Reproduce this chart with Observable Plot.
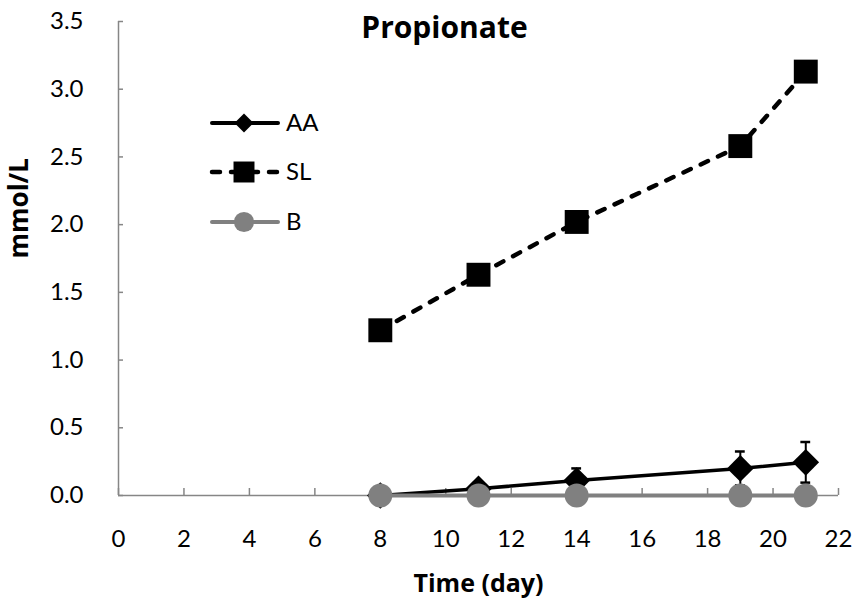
<!DOCTYPE html>
<html><head><meta charset="utf-8">
<script src="https://cdn.jsdelivr.net/npm/d3@7"></script>
<script src="https://cdn.jsdelivr.net/npm/@observablehq/plot@0.6"></script>
<style>
body{margin:0;background:#fff;}
#wrap{position:relative;width:863px;height:603px;font-family:Lato,"Open Sans",sans-serif;}
#legend{position:absolute;left:0;top:0;pointer-events:none;}
</style></head><body><div id="wrap"></div>
<script>
// ---- data ----
const days = [8, 11, 14, 19, 21];
const aaValues = [0, 0.05, 0.11, 0.2, 0.245];
const aaError = [0, 0.02, 0.09, 0.125, 0.15];
const slValues = [1.22, 1.63, 2.02, 2.58, 3.13];
const bValues = [0, 0, 0, 0, 0];
const seriesNames = ["AA", "SL", "B"];
const xTicks = [0, 2, 4, 6, 8, 10, 12, 14, 16, 18, 20, 22];
const yTicks = [0, 0.5, 1, 1.5, 2, 2.5, 3, 3.5];
const titleText = "Propionate";
const xLabel = "Time (day)";
const yLabel = "mmol/L";

// ---- tables ----
const aa = days.map((d, i) => ({day: d, v: aaValues[i], e: aaError[i]}));
const sl = days.map((d, i) => ({day: d, v: slValues[i]}));
const b = days.map((d, i) => ({day: d, v: bValues[i]}));
const aaErr = aa.filter(d => d.e > 0);

const axisColor = "#868686";
const grey = "#808080";
const capHalf = 0.15;
const boldFont = "'Open Sans', Lato, sans-serif";

const chart = Plot.plot({
  width: 863, height: 603,
  marginLeft: 118, marginRight: 25, marginTop: 21, marginBottom: 108,
  style: {fontFamily: "Lato, 'Open Sans', sans-serif", background: "white"},
  x: {domain: [0, 22]},
  y: {domain: [0, 3.5]},
  marks: [
    Plot.ruleX([0], {stroke: axisColor, strokeWidth: 1.5}),
    Plot.ruleY([0], {stroke: axisColor, strokeWidth: 1.5}),
    Plot.axisX(xTicks, {tickSize: -7, text: null, label: null, stroke: axisColor, strokeWidth: 1.5}),
    Plot.axisX(xTicks, {tickSize: 0, tickPadding: 34, fontSize: 24, fill: "black", label: null}),
    Plot.axisY(yTicks, {tickSize: -5, text: null, label: null, stroke: axisColor, strokeWidth: 1.5}),
    Plot.axisY(yTicks, {tickSize: 0, tickPadding: 35, fontSize: 24, fill: "black", tickFormat: d => d.toFixed(1), label: null}),
    Plot.text([titleText], {frameAnchor: "top", lineAnchor: "middle", dx: -34, dy: 7, fontSize: 30, fontWeight: "bold", fontFamily: boldFont, fill: "black"}),
    Plot.text([xLabel], {frameAnchor: "bottom", lineAnchor: "middle", dy: 88, dx: 0, fontSize: 25, fontWeight: "bold", fontFamily: boldFont, fill: "black"}),
    Plot.text([yLabel], {frameAnchor: "left", dx: -99, dy: 0, rotate: -90, fontSize: 26, fontWeight: "bold", fontFamily: boldFont, fill: "black"}),
    // SL
    Plot.line(sl, {x: "day", y: "v", stroke: "black", strokeWidth: 4.5, strokeDasharray: "8,11", strokeLinecap: "round"}),
    Plot.dot(sl, {x: "day", y: "v", symbol: "square", r: 13.5, fill: "black", stroke: "none"}),
    // AA
    Plot.ruleX(aaErr, {x: "day", y1: d => d.v - d.e, y2: d => d.v + d.e, stroke: "black", strokeWidth: 2}),
    Plot.ruleY(aaErr, {y: d => d.v + d.e, x1: d => d.day - capHalf, x2: d => d.day + capHalf, stroke: "black", strokeWidth: 2.5}),
    Plot.ruleY(aaErr, {y: d => d.v - d.e, x1: d => d.day - capHalf, x2: d => d.day + capHalf, stroke: "black", strokeWidth: 2.5}),
    Plot.line(aa, {x: "day", y: "v", stroke: "black", strokeWidth: 3.5}),
    Plot.dot(aa, {x: "day", y: "v", symbol: "diamond2", r: 12, fill: "black", stroke: "none"}),
    // B
    Plot.line(b, {x: "day", y: "v", stroke: grey, strokeWidth: 4}),
    Plot.dot(b, {x: "day", y: "v", symbol: "circle", r: 12, fill: grey, stroke: "none"})
  ]
});
const wrap = document.getElementById("wrap");
wrap.appendChild(chart);

// ---- legend overlay ----
const legendItems = [
  {name: seriesNames[0], color: "black", dash: null, symbol: d3.symbolDiamond2, size: 230},
  {name: seriesNames[1], color: "black", dash: "8,11", symbol: d3.symbolSquare, size: 440},
  {name: seriesNames[2], color: grey, dash: null, symbol: d3.symbolCircle, size: 320}
];
const lg = d3.select(wrap).append("svg").attr("id", "legend").attr("width", 863).attr("height", 603);
const rowY = [123, 172, 222];
legendItems.forEach((it, i) => {
  const g = lg.append("g").attr("transform", `translate(0,${rowY[i]})`);
  g.append("line").attr("x1", 212).attr("x2", 278).attr("y1", 0).attr("y2", 0)
    .attr("stroke", it.color).attr("stroke-width", it.dash ? 4.5 : 4)
    .attr("stroke-linecap", "round").attr("stroke-dasharray", it.dash);
  g.append("path").attr("d", d3.symbol(it.symbol, it.size)()).attr("transform", "translate(244,0)").attr("fill", it.color);
  g.append("text").attr("x", 286).attr("y", 0).attr("dy", "0.35em").attr("font-size", 24)
    .attr("font-family", "Lato, 'Open Sans', sans-serif").text(it.name);
});
</script></body></html>
